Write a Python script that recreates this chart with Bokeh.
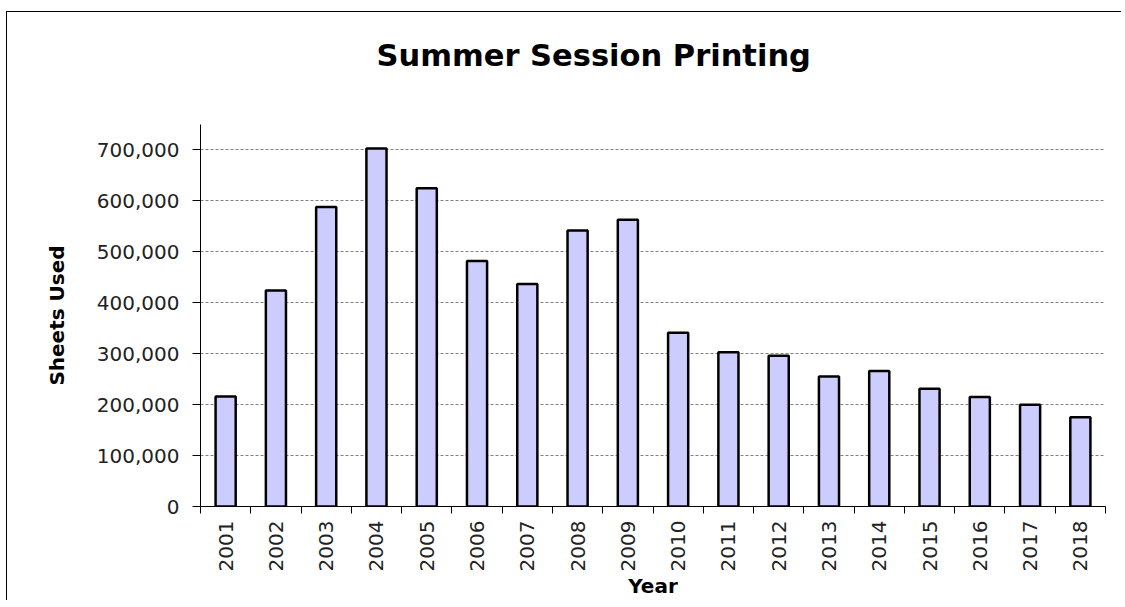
import math
from bokeh.plotting import figure
from bokeh.models import FixedTicker, NumeralTickFormatter, Range1d, ColumnDataSource, Title
from bokeh.embed import file_html
from bokeh.resources import INLINE

years = ["2001", "2002", "2003", "2004", "2005", "2006", "2007", "2008", "2009",
         "2010", "2011", "2012", "2013", "2014", "2015", "2016", "2017", "2018"]
sheets = [216000, 424000, 588000, 703000, 625000, 482000, 437000, 542000, 563000,
          341000, 303000, 296000, 255000, 266000, 231000, 215000, 200000, 175000]
y_ticks = [0, 100000, 200000, 300000, 400000, 500000, 600000, 700000]
title_text = "Summer Session Printing"

xs = [i + 0.5 for i in range(len(years))]
src = ColumnDataSource(dict(x=xs, top=sheets, year=years))

FONT = "DejaVu Sans"

p = figure(width=1115, height=589, output_backend="svg", toolbar_location=None,
           x_range=Range1d(0, len(years)), y_range=Range1d(0, 750000),
           min_border_left=193, min_border_right=17, min_border_top=112, min_border_bottom=93)
p.styles = {"border-left": "1.5px solid black", "border-top": "1.5px solid black",
            "margin-top": "11px", "margin-left": "6px"}

# spacer between the frame and the title (closest to the frame)
spacer = Title(text=" ", text_font=FONT, text_font_size="10px", standoff=32)
p.add_layout(spacer, "above")

main_title = Title(text=title_text, text_font=FONT, text_font_size="30.5px",
                   text_font_style="bold", text_color="black", align="left",
                   offset=176, vertical_align="top", standoff=10)
p.add_layout(main_title, "above")

p.outline_line_color = None
p.background_fill_color = "white"

p.vbar(x="x", top="top", width=0.4, bottom=0, source=src,
       fill_color="#CCCCFF", line_color="black", line_width=2.5)

# x axis
xa = p.xaxis[0]
xa.ticker = FixedTicker(ticks=xs, minor_ticks=list(range(len(years) + 1)))
xa.major_label_overrides = {x: y for x, y in zip(xs, years)}
xa.major_label_orientation = math.pi / 2
xa.major_tick_line_color = None
xa.major_tick_out = 7
xa.major_tick_in = 0
xa.minor_tick_out = 7
xa.minor_tick_in = 0
xa.minor_tick_line_color = "black"
xa.major_label_standoff = 7
xa.axis_label = "Year"
xa.axis_label_text_font = FONT
xa.axis_label_text_font_size = "20px"
xa.axis_label_text_font_style = "bold"
xa.axis_label_text_color = "black"
xa.axis_label_standoff = 0
xa.major_label_text_font = FONT
xa.major_label_text_font_size = "20px"
xa.major_label_text_color = "#222222"
xa.axis_line_color = "black"

# y axis
ya = p.yaxis[0]
ya.ticker = FixedTicker(ticks=y_ticks)
ya.formatter = NumeralTickFormatter(format="0,0")
ya.major_tick_out = 8
ya.major_tick_in = 0
ya.minor_tick_line_color = None
ya.major_label_standoff = 13
ya.axis_label = "Sheets Used"
ya.axis_label_text_font = FONT
ya.axis_label_text_font_size = "20px"
ya.axis_label_text_font_style = "bold"
ya.axis_label_text_color = "black"
ya.axis_label_standoff = 25
ya.major_label_text_font = FONT
ya.major_label_text_font_size = "20px"
ya.major_label_text_color = "#222222"
ya.axis_line_color = "black"

p.xgrid.grid_line_color = None
p.ygrid.ticker = FixedTicker(ticks=y_ticks[1:])
p.ygrid.grid_line_color = "#808080"
p.ygrid.grid_line_dash = "3 2"
p.ygrid.grid_line_width = 1

open("out.html", "w").write(file_html(p, INLINE))
